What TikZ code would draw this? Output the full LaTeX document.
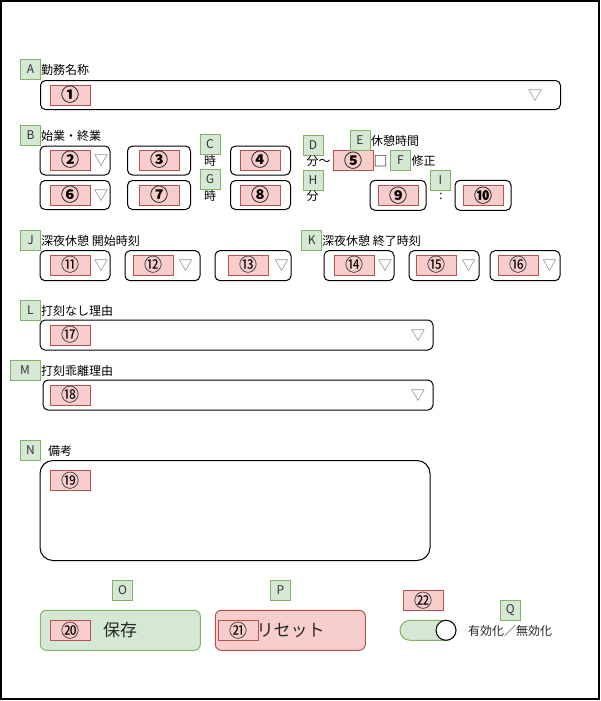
\documentclass[tikz,border=0pt]{standalone}
\usepackage{fontspec}
\setmainfont{Noto Sans CJK JP}
\definecolor{gfill}{HTML}{D5E8D4}
\definecolor{gline}{HTML}{82B366}
\definecolor{rfill}{HTML}{F8CECC}
\definecolor{rline}{HTML}{B85450}
\tikzset{
 lbl/.style={draw=gline, fill=gfill, line width=1pt, minimum width=20pt, minimum height=20pt, inner sep=0pt, font=\fontsize{12}{12}\selectfont, text=black!80},
 num/.style={draw=rline, fill=rfill, line width=1pt, minimum width=40pt, minimum height=20pt, inner sep=0pt, font=\fontsize{18}{18}\selectfont},
 numb/.style={num, font=\fontsize{18}{18}\selectfont\bfseries},
 fld/.style={draw=black, line width=1pt, rounded corners=5pt, inner sep=0pt},
 tri/.style={text=black!60, font=\fontsize{14}{14}\selectfont, inner sep=0pt},
 txt/.style={font=\fontsize{12}{12}\selectfont, inner sep=0pt, anchor=west},
 ctxt/.style={font=\fontsize{12}{12}\selectfont, inner sep=0pt},
 btn/.style={line width=1pt, rounded corners=6pt, minimum height=40pt, inner sep=0pt},
}
\begin{document}
\begin{tikzpicture}[x=1pt,y=-1pt]
\useasboundingbox (0,0) rectangle (601,701);
\draw[line width=1.2pt] (1,1) rectangle (599,699);

% A
\node[lbl] (lA) at (30.5,69.5) {A};
\node[txt] (tA) at (41,70) {勤務名称};
\node[fld, minimum width=520pt, minimum height=29pt] (f1) at (300.5,95) {};
\node[numb] (n1) at (70.5,95) {①};
\node[tri] (d1) at (535,96) {▽};

% B
\node[lbl] (lB) at (30.5,135.5) {B};
\node[txt] (tB) at (41,136) {始業・終業};
\node[fld, minimum width=70pt, minimum height=29pt] (f2) at (75,160.5) {};
\node[numb] (n2) at (70.5,160) {②};
\node[tri] (d2) at (101,161) {▽};
\node[fld, minimum width=63pt, minimum height=29pt] (f3) at (159,160.5) {};
\node[numb] (n3) at (159,160) {③};
\node[lbl] (lC) at (210,144) {C};
\node[ctxt] (tC) at (210,161) {時};
\node[fld, minimum width=60pt, minimum height=29pt] (f4) at (260.5,160.5) {};
\node[numb] (n4) at (260,160) {④};

\node[fld, minimum width=70pt, minimum height=29pt] (f6) at (75,195) {};
\node[numb] (n6) at (70.5,195) {⑥};
\node[tri] (d6) at (101,196) {▽};
\node[fld, minimum width=63pt, minimum height=29pt] (f7) at (159,195) {};
\node[numb] (n7) at (159,195) {⑦};
\node[lbl] (lG) at (210,179.5) {G};
\node[ctxt] (tG) at (210,196) {時};
\node[fld, minimum width=60pt, minimum height=29pt] (f8) at (260.5,195) {};
\node[numb] (n8) at (260,195) {⑧};

% D E F H I
\node[lbl] (lD) at (313,145) {D};
\node[ctxt] (tD) at (318.5,161) {分～};
\node[numb] (n5) at (353,160.5) {⑤};
\node[font=\fontsize{14}{14}\selectfont, inner sep=0pt] (box) at (380.7,161) {□};
\node[lbl] (lF) at (400.5,160.5) {F};
\node[txt] (tF) at (411.5,161) {修正};
\node[lbl] (lE) at (360,140) {E};
\node[txt] (tE) at (371,141) {休憩時間};
\node[lbl] (lH) at (313,180) {H};
\node[ctxt] (tH) at (312.5,196) {分};
\node[fld, minimum width=56pt, minimum height=30pt] (f9) at (398,195.3) {};
\node[numb] (n9) at (398,195.3) {⑨};
\node[lbl] (lI) at (440.5,180.5) {I};
\node[ctxt] (tI) at (441,196.5) {:};
\node[fld, minimum width=56pt, minimum height=30pt] (f10) at (483,195.3) {};
\node[numb] (n10) at (483,195.3) {⑩};

% J K
\node[lbl] (lJ) at (30.5,240) {J};
\node[txt] (tJ) at (41,241) {深夜休憩 開始時刻};
\node[fld, minimum width=70pt, minimum height=30pt] (f11) at (75,265.7) {};
\node[num] (n11) at (70.5,265) {⑪};
\node[tri] (d11) at (101,266) {▽};
\node[fld, minimum width=75pt, minimum height=30pt] (f12) at (162.5,265.7) {};
\node[num] (n12) at (153,265) {⑫};
\node[tri] (d12) at (185.5,266) {▽};
\node[fld, minimum width=76pt, minimum height=30pt] (f13) at (253,265.7) {};
\node[num] (n13) at (248,265) {⑬};
\node[tri] (d13) at (281.5,266) {▽};

\node[lbl] (lK) at (311.7,240) {K};
\node[txt] (tK) at (322,241) {深夜休憩 終了時刻};
\node[fld, minimum width=70pt, minimum height=30pt] (f14) at (359,265.7) {};
\node[num] (n14) at (354,265) {⑭};
\node[tri] (d14) at (385,266) {▽};
\node[fld, minimum width=70pt, minimum height=30pt] (f15) at (444,265.7) {};
\node[num] (n15) at (436.5,265) {⑮};
\node[tri] (d15) at (468.5,266) {▽};
\node[fld, minimum width=70pt, minimum height=30pt] (f16) at (525,265.7) {};
\node[num] (n16) at (518,265) {⑯};
\node[tri] (d16) at (549.5,266) {▽};

% L M
\node[lbl] (lL) at (30.5,310) {L};
\node[txt] (tL) at (41,311) {打刻なし理由};
\node[fld, minimum width=393pt, minimum height=30pt] (f17) at (236.5,335) {};
\node[num] (n17) at (70.5,335) {⑰};
\node[tri] (d17) at (418,336) {▽};

\node[lbl, minimum width=30pt] (lM) at (25,370) {M};
\node[txt] (tM) at (41,371) {打刻乖離理由};
\node[fld, minimum width=390pt, minimum height=30pt] (f18) at (238,395) {};
\node[num] (n18) at (70.5,395) {⑱};
\node[tri] (d18) at (418,396) {▽};

% N
\node[lbl] (lN) at (30.5,450.5) {N};
\node[txt] (tN) at (48,451) {備考};
\node[fld, rounded corners=13pt, minimum width=390pt, minimum height=100pt] (f19) at (235,510.5) {};
\node[num] (n19) at (70.5,480.5) {⑲};

% buttons
\node[lbl] (lO) at (122.5,590.5) {O};
\node[lbl] (lP) at (280.5,590.5) {P};
\node[btn, draw=gline, fill=gfill, minimum width=160pt] (bS) at (120.3,630.3) {};
\node[font=\fontsize{17}{17}\selectfont, text=black!85, inner sep=0pt] (tS) at (120,630.5) {保存};
\node[num] (n20) at (70,630.3) {⑳};
\node[btn, draw=rline, fill=rfill, minimum width=150pt] (bR) at (290.3,630.3) {};
\node[font=\fontsize{17}{17}\selectfont, text=black!85, inner sep=0pt] (tR) at (290.7,630.5) {リセット};
\node[num] (n21) at (238,630.3) {㉑};

\node[num] (n22) at (423,600.3) {㉒};
\node[lbl] (lQ) at (510.3,610.3) {Q};
\node[draw=gline, fill=gfill, line width=1pt, rounded corners=10pt, minimum width=56pt, minimum height=20pt, inner sep=0pt] (tg) at (428,630.3) {};
\node[circle, draw=black, fill=white, line width=1pt, minimum size=20pt, inner sep=0pt] (tgc) at (446,630.3) {};
\node[ctxt, text=black!85] (tT) at (510,631) {有効化／無効化};
\end{tikzpicture}
\end{document}
